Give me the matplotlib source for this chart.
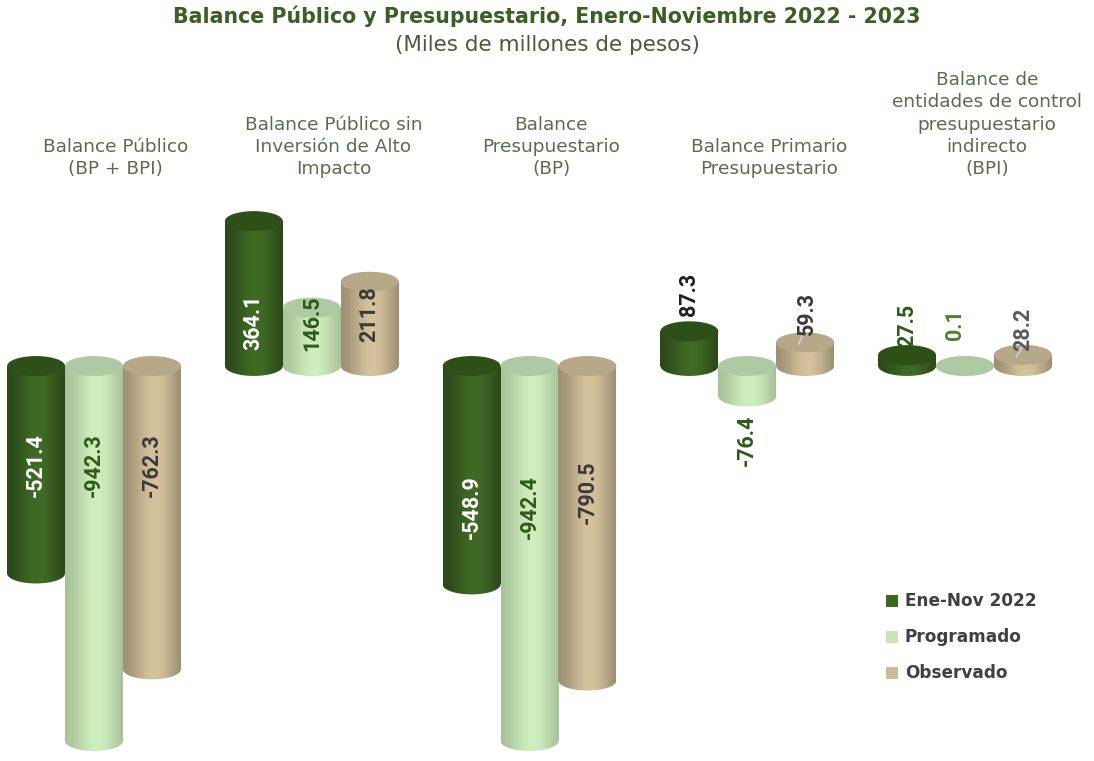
import numpy as np
import matplotlib
matplotlib.use("Agg")
import matplotlib.pyplot as plt
from matplotlib.patches import Ellipse, Rectangle
from matplotlib.colors import to_rgb

# ---------------- data ----------------
categories = [
    "Balance Público\n(BP + BPI)",
    "Balance Público sin\nInversión de Alto\nImpacto",
    "Balance\nPresupuestario\n(BP)",
    "Balance Primario\nPresupuestario",
    "Balance de\nentidades de control\npresupuestario\nindirecto\n(BPI)",
]
series_names = ["Ene-Nov 2022", "Programado", "Observado"]
ene_nov_2022 = [-521.4, 364.1, -548.9, 87.3, 27.5]
programado = [-942.3, 146.5, -942.4, -76.4, 0.1]
observado = [-762.3, 211.8, -790.5, 59.3, 28.2]
series = [ene_nov_2022, programado, observado]

# ---------------- layout / style ----------------
body_colors = ["#3d6623", "#c7e5b6", "#cdbb97"]
cap_colors = ["#2d4f18", "#adcaa2", "#b8a88a"]
shade_depth = [0.70, 0.84, 0.76]
label_colors = [
    ["white", "white", "white", "#1f1f1f", "#2e5a1a"],
    ["#2e5a1a", "#2e5a1a", "#2e5a1a", "#2e5a1a", "#4f7f35"],
    ["#3a3a3a", "#3a3a3a", "#3a3a3a", "#3a3a3a", "#5a5a5a"],
]
# label centre positions (value units) per series / category
label_y = [
    [-249, 111, -355, 179, 103],
    [-249, 108, -355, -186, 103],
    [-249, 131, -317, 133, 91],
]
label_dx = [
    [0, 0, 0, 0, 0],
    [0, 0, 0, 0, -0.045],
    [0, 0, 0, 0.01, 0],
]
leader = [(2, 3), (2, 4)]

W, H = 1094, 761
fig = plt.figure(figsize=(W / 100, H / 100), dpi=100)
ax = fig.add_axes([0, 0, 1, 1])
pxx = 217.75
ax.set_xlim(-94 / pxx, (W - 94) / pxx)
base_px, s = 366, 0.398
ax.set_ylim(-(H - base_px) / s, base_px / s)
ax.axis("off")

bw = 0.266
eh = 50  # ellipse height in value units


def shade_img(color, depth):
    c = np.array(to_rgb(color))
    t = np.linspace(0, 1, 200)
    f = np.exp(-((t - 0.55) / 0.38) ** 2) - 0.15 * (t ** 6)
    f = (f - f.min()) / (f.max() - f.min())
    dark = c * depth
    lite = np.clip(c * 1.04, 0, 1)
    rgb = dark[None, :] + (lite - dark)[None, :] * f[:, None]
    return np.clip(rgb[None, :, :], 0, 1)


x = np.arange(len(categories))
for si, vals in enumerate(series):
    off = (si - 1) * bw
    img = shade_img(body_colors[si], shade_depth[si])
    for ci, v in enumerate(vals):
        xc = x[ci] + off
        lo, hi = min(0, v), max(0, v)
        rect = Rectangle((xc - bw / 2, lo), bw, hi - lo, facecolor="none", edgecolor="none")
        ax.add_patch(rect)
        im = ax.imshow(img, extent=(xc - bw / 2, xc + bw / 2, lo - eh, hi + eh),
                       aspect="auto", zorder=2 + si, interpolation="bilinear")
        im.set_clip_path(rect)
        ey = 0 if v >= 0 else v
        ell = Ellipse((xc, ey), bw, eh, facecolor="none", edgecolor="none")
        ax.add_patch(ell)
        im2 = ax.imshow(img, extent=(xc - bw / 2, xc + bw / 2, lo - eh, hi + eh),
                        aspect="auto", zorder=2 + si, interpolation="bilinear")
        im2.set_clip_path(ell)
        cy = v if v >= 0 else 0
        cap = Ellipse((xc, cy), bw, eh, facecolor=cap_colors[si], edgecolor="none",
                      zorder=2.5 + si)
        ax.add_patch(cap)
        ax.text(xc + label_dx[si][ci], label_y[si][ci], f"{v:.1f}", rotation=90,
                ha="center", va="center", fontsize=15.5, fontweight="bold",
                family="Roboto", color=label_colors[si][ci], zorder=10)

for si, ci in leader:
    xc = x[ci] + (si - 1) * bw
    v = series[si][ci]
    ax.plot([xc - 0.005, xc - 0.03], [label_y[si][ci] - 45, v - 5], color="#d8d8d8",
            lw=1, zorder=9)

# category labels
for ci, cat in enumerate(categories):
    ax.text(x[ci] + 0.1, (base_px - 178) / s, cat, ha="center", va="bottom",
            fontsize=13.3, color="#5b6b4b", family="DejaVu Sans", linespacing=1.3)

# titles
fig.text(0.5, 1 - 16 / H, "Balance Público y Presupuestario, Enero-Noviembre 2022 - 2023",
         ha="center", va="center", fontsize=14.8, fontweight="bold", color="#3b5e22",
         family="DejaVu Sans")
fig.text(0.5, 1 - 45 / H, "(Miles de millones de pesos)", ha="center", va="center",
         fontsize=15.5, color="#4a5a3a", family="DejaVu Sans")

# legend
for si, name in enumerate(series_names):
    yy = 1 - (601 + si * 36) / H
    fig.patches.append(Rectangle((886 / W, yy - 6 / H), 12 / W, 12 / H,
                                 transform=fig.transFigure, facecolor=body_colors[si],
                                 edgecolor="none"))
    fig.text(905 / W, yy, name, ha="left", va="center", fontsize=12.2, fontweight="bold",
             color="#404040", family="DejaVu Sans")

fig.savefig("out.png", dpi=100)
